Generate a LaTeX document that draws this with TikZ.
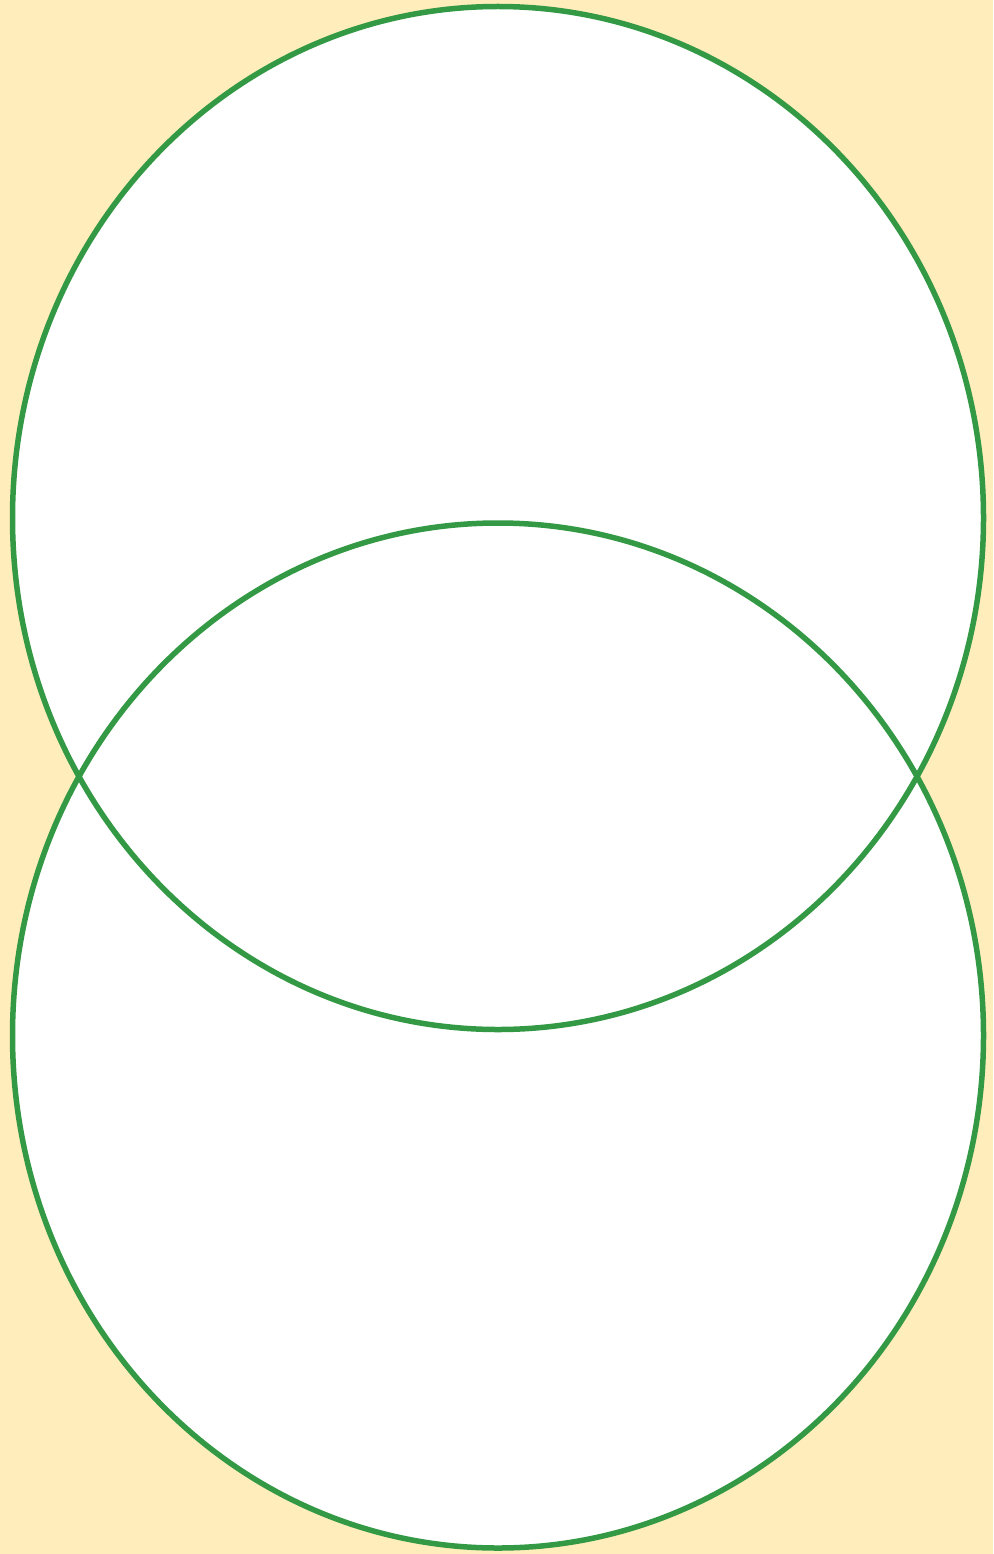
\documentclass[tikz,border=0pt]{standalone}
\definecolor{bgyel}{HTML}{FFEEBB}
\definecolor{rimgreen}{HTML}{339944}
\begin{document}
\begin{tikzpicture}[x=1pt,y=-1pt,
  rim/.style={draw=rimgreen,line width=5.5pt},
  disc/.style={fill=white}]
\fill[bgyel] (0,0) rectangle (993,1554);
\useasboundingbox (0,0) rectangle (993,1554);
\coordinate (ctop) at (498,518);
\coordinate (cbot) at (498,1035.5);
\fill[disc] (ctop) ellipse [x radius=485.5, y radius=511.5];
\fill[disc] (cbot) ellipse [x radius=485.5, y radius=512.5];
\draw[rim] (ctop) ellipse [x radius=485.5, y radius=511.5];
\draw[rim] (cbot) ellipse [x radius=485.5, y radius=512.5];
\end{tikzpicture}
\end{document}
